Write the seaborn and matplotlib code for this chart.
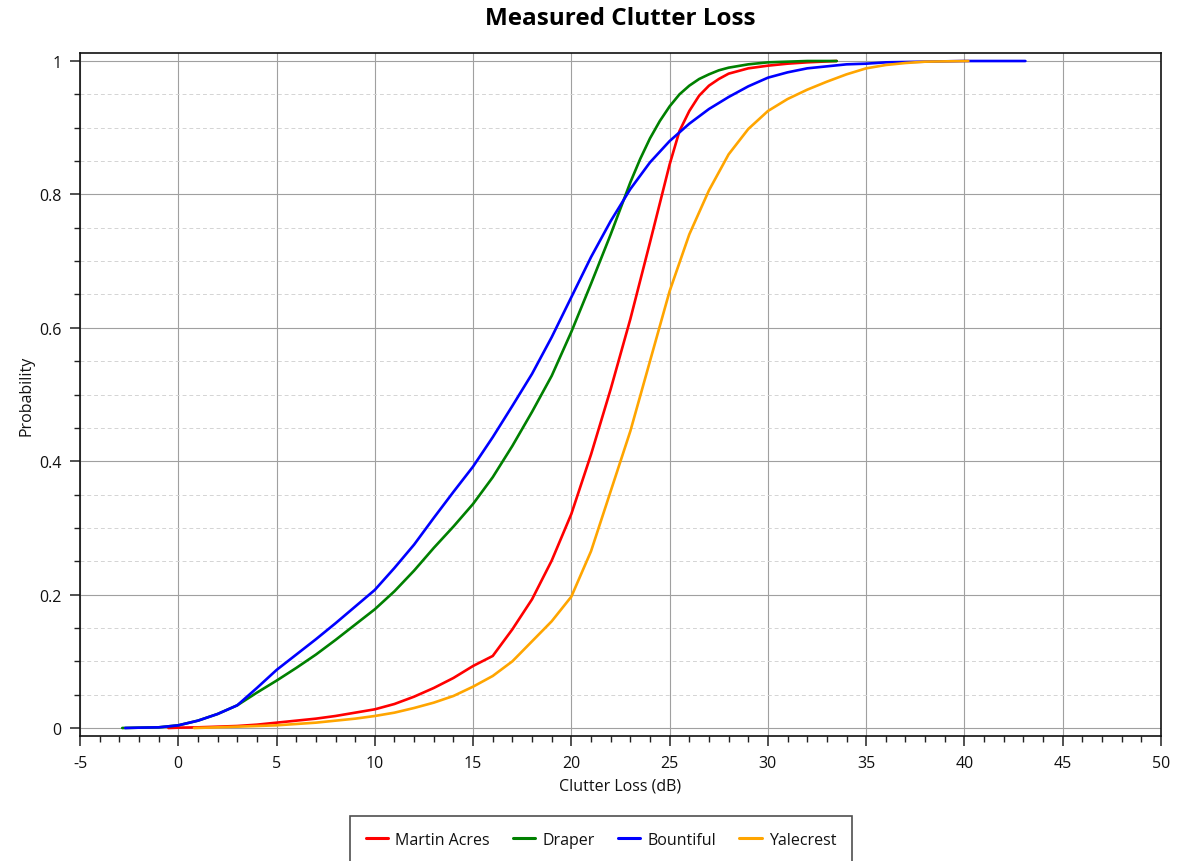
import numpy as np
import pandas as pd
import matplotlib
matplotlib.use("Agg")
import matplotlib.pyplot as plt
from matplotlib.ticker import MultipleLocator, FixedLocator
from matplotlib.lines import Line2D
import seaborn as sns

# ---- data ----
series_names = ["Martin Acres", "Draper", "Bountiful", "Yalecrest"]
series_colors = ["#ff0000", "#008000", "#0000ff", "#ffa500"]

martin_x = [-0.5, 0, 1, 2, 3, 4, 5, 6, 7, 8, 9, 10, 11, 12, 13, 14, 15, 16, 17, 18,
            19, 20, 21, 22, 23, 24, 25, 25.5, 26, 26.5, 27, 27.5, 28, 29, 30, 31, 32, 33.5]
martin_y = [0, 0.0005, 0.001, 0.002, 0.003, 0.005, 0.008, 0.011, 0.014, 0.018, 0.023,
            0.028, 0.036, 0.047, 0.06, 0.075, 0.093, 0.108, 0.148, 0.193, 0.251, 0.321,
            0.41, 0.508, 0.613, 0.728, 0.845, 0.895, 0.925, 0.948, 0.963, 0.973, 0.981,
            0.989, 0.993, 0.996, 0.998, 1.0]

draper_x = [-2.85, -2, -1, 0, 1, 2, 3, 4, 5, 6, 7, 8, 9, 10, 11, 12, 13, 14, 15, 16,
            17, 18, 19, 20, 21, 22, 22.5, 23, 23.5, 24, 24.5, 25, 25.5, 26, 26.5, 27,
            27.5, 28, 29, 30, 31, 32, 33.5]
draper_y = [0, 0.0005, 0.001, 0.004, 0.011, 0.021, 0.034, 0.053, 0.071, 0.09, 0.11,
            0.132, 0.155, 0.178, 0.205, 0.236, 0.27, 0.302, 0.336, 0.376, 0.423, 0.474,
            0.528, 0.594, 0.666, 0.74, 0.779, 0.818, 0.853, 0.884, 0.91, 0.932, 0.95,
            0.963, 0.973, 0.98, 0.986, 0.99, 0.995, 0.998, 0.999, 1.0, 1.0]

bountiful_x = [-2.7, -2, -1, 0, 1, 2, 3, 4, 5, 6, 7, 8, 9, 10, 11, 12, 13, 14, 15, 16,
               17, 18, 19, 20, 21, 22, 23, 24, 25, 26, 27, 28, 29, 30, 31, 32, 33, 34,
               35, 36, 38, 40, 43.1]
bountiful_y = [0, 0.0005, 0.001, 0.004, 0.011, 0.021, 0.034, 0.06, 0.087, 0.11, 0.133,
               0.157, 0.182, 0.207, 0.24, 0.275, 0.315, 0.354, 0.392, 0.436, 0.483, 0.531,
               0.586, 0.646, 0.706, 0.76, 0.808, 0.848, 0.88, 0.906, 0.928, 0.946,
               0.962, 0.975, 0.983, 0.989, 0.992, 0.995, 0.996, 0.998, 0.999, 1.0, 1.0]

yale_x = [0.8, 2, 3, 4, 5, 6, 7, 8, 9, 10, 11, 12, 13, 14, 15, 16, 17, 18, 19, 20, 21,
          22, 23, 24, 25, 26, 27, 28, 29, 30, 31, 32, 33, 34, 35, 36, 37, 38, 40.2]
yale_y = [0, 0.001, 0.002, 0.003, 0.004, 0.006, 0.008, 0.011, 0.014, 0.018, 0.023,
          0.03, 0.038, 0.048, 0.062, 0.078, 0.1, 0.13, 0.16, 0.197, 0.265, 0.355, 0.445,
          0.55, 0.655, 0.74, 0.806, 0.86, 0.898, 0.925, 0.943, 0.957, 0.969, 0.98, 0.989,
          0.994, 0.997, 0.999, 1.0]

x_ticks = [-5, 0, 5, 10, 15, 20, 25, 30, 35, 40, 45, 50]
y_ticks = [0, 0.2, 0.4, 0.6, 0.8, 1.0]
y_tick_labels = ["0", "0.2", "0.4", "0.6", "0.8", "1"]

# ---- long-form table ----
frames = []
for name, xs, ys in zip(series_names,
                        [martin_x, draper_x, bountiful_x, yale_x],
                        [martin_y, draper_y, bountiful_y, yale_y]):
    frames.append(pd.DataFrame({"x": xs, "y": ys, "site": name}))
df = pd.concat(frames, ignore_index=True)

sns.set_theme(style="white")
plt.rcParams["font.family"] = ["Open Sans", "DejaVu Sans"]
plt.rcParams["axes.unicode_minus"] = False

fig = plt.figure(figsize=(11.91, 8.62), dpi=100)
ax = fig.add_axes([80 / 1191, 1 - 737 / 862, (1161 - 80) / 1191, (737 - 54) / 862])

palette = dict(zip(series_names, series_colors))
sns.lineplot(data=df, x="x", y="y", hue="site", hue_order=series_names,
             palette=palette, sort=False, estimator=None, linewidth=1.9,
             legend=False, ax=ax)
for ln in ax.get_lines():
    ln.set_solid_joinstyle("round")
    ln.set_solid_capstyle("round")

ax.set_xlim(-5, 50)
ax.set_ylim(-0.012, 1.012)
ax.xaxis.set_major_locator(FixedLocator(x_ticks))
ax.xaxis.set_minor_locator(MultipleLocator(1))
ax.set_xticklabels([str(t) for t in x_ticks])
ax.yaxis.set_major_locator(FixedLocator(y_ticks))
ax.yaxis.set_minor_locator(MultipleLocator(0.05))
ax.set_yticklabels(y_tick_labels)

ax.grid(which="major", color="#a0a0a0", linewidth=0.8, linestyle="-")
ax.yaxis.grid(which="minor", color="#d4d4d4", linewidth=0.7, linestyle=(0, (4, 3)))
ax.xaxis.grid(which="minor", visible=False)
ax.set_axisbelow(True)

for s in ax.spines.values():
    s.set_visible(True)
    s.set_color("#111111")
    s.set_linewidth(1.2)

ax.tick_params(which="major", direction="out", length=7.5, width=1.1, color="#222222",
               labelsize=11.5, labelcolor="#111111", pad=6, left=True, bottom=True)
ax.tick_params(which="minor", direction="out", length=4.5, width=1.0, color="#222222",
               left=True, bottom=True)

ax.set_xlabel("Clutter Loss (dB)", fontsize=11.5, color="#111111", labelpad=5)
ax.set_ylabel("Probability", fontsize=11.5, color="#111111", labelpad=3)
ax.set_title("Measured Clutter Loss", fontsize=17.5, fontweight="bold", color="black", pad=21)

handles = [Line2D([0], [0], color=c, linewidth=2.2) for c in series_colors]
leg = fig.legend(handles, series_names, loc="upper center",
                 bbox_to_anchor=(601 / 1191, 1 - 817 / 862), bbox_transform=fig.transFigure,
                 ncol=4, frameon=True, fancybox=False, fontsize=11.5,
                 handlelength=1.4, handletextpad=0.45, columnspacing=1.45,
                 borderpad=1.0, borderaxespad=0)
leg.get_frame().set_edgecolor("#222222")
leg.get_frame().set_linewidth(1.2)
for t in leg.get_texts():
    t.set_color("#111111")

fig.savefig("out.png", dpi=100)
